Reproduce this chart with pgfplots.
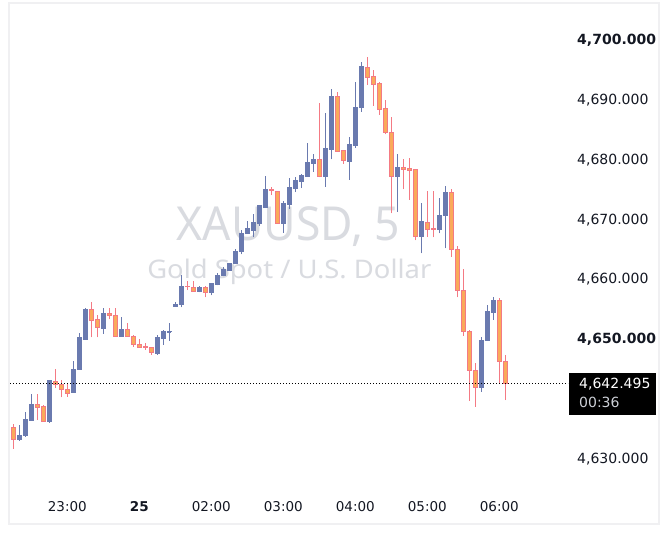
\documentclass[border=0pt]{standalone}
\usepackage{pgfplots}
\pgfplotsset{compat=1.18}
\usepackage{fontspec}
\setmainfont{DejaVu Sans}
\newfontfamily\wm{Noto Sans}
\definecolor{upc}{RGB}{106,122,175}
\definecolor{dnfill}{RGB}{250,170,90}
\definecolor{dnline}{RGB}{244,122,132}
\definecolor{wmc}{RGB}{217,219,224}
\definecolor{framec}{RGB}{240,240,242}
\definecolor{tagsub}{RGB}{205,208,215}
\definecolor{txt}{RGB}{19,23,34}
% #1 index, #2 open, #3 high, #4 low, #5 close
\newcommand\U[5]{%
  \pgfmathsetmacro\xa{#1-0.31}\pgfmathsetmacro\xb{#1+0.31}%
  \addplot[upc, line width=1bp] coordinates {(#1,#4) (#1,#3)};
  \addplot[draw=upc, fill=upc, line width=1bp] coordinates {(\xa,#2) (\xb,#2) (\xb,#5) (\xa,#5)} -- cycle;
}
\newcommand\D[5]{%
  \pgfmathsetmacro\xa{#1-0.31}\pgfmathsetmacro\xb{#1+0.31}%
  \addplot[dnline, line width=1bp] coordinates {(#1,#4) (#1,#3)};
  \addplot[draw=dnline, fill=dnfill, line width=1bp] coordinates {(\xa,#2) (\xb,#2) (\xb,#5) (\xa,#5)} -- cycle;
}
\begin{document}
\begin{tikzpicture}[x=1bp,y=1bp]
\fill[white] (0,0) rectangle (670,541);
\draw[framec, line width=2bp] (9.3,16.7) rectangle (659.3,537.7);
\node[wmc, anchor=base, inner sep=0, font=\wm\fontsize{46.8bp}{50bp}\selectfont, xscale=0.95] at (288.3,300.3) {XAUUSD, 5};
\node[wmc, anchor=base, inner sep=0, font=\wm\fontsize{25.6bp}{28bp}\selectfont, xscale=1.07] at (289.3,262.7) {Gold Spot / U.S. Dollar};
\begin{axis}[at={(10bp,56bp)}, anchor=south west, scale only axis,
  width=558bp, height=475bp,
  xmin=0.45, xmax=93.45, ymin=4625.48, ymax=4705.02,
  axis line style={draw=none}, major tick length=0,
  xtick={10,22,34,46,58,70,82},
  xticklabels={23:00,\textbf{25},02:00,03:00,04:00,05:00,06:00},
  xticklabel style={anchor=base, inner sep=0, yshift=-27bp, text=txt, font=\fontsize{13.5bp}{16bp}\selectfont},
  ytick={4630,4650,4660,4670,4680,4690,4700},
  yticklabels={{4,630.000},{\textbf{4,650.000}},{4,660.000},{4,670.000},{4,680.000},{4,690.000},{\textbf{4,700.000}}},
  yticklabel pos=right,
  yticklabel style={anchor=base west, inner sep=0, xshift=9bp, yshift=-5bp, text=txt, font=\fontsize{14bp}{16bp}\selectfont},
]
\D{1}{4635.07}{4635.69}{4631.56}{4633.06}
\U{2}{4633.13}{4635.53}{4632.90}{4633.73}
\U{3}{4633.73}{4637.70}{4633.60}{4636.53}
\U{4}{4636.25}{4640.72}{4636.20}{4639.04}
\D{5}{4639.04}{4640.72}{4636.36}{4638.49}
\D{6}{4638.59}{4638.88}{4636.03}{4636.08}
\U{7}{4636.08}{4642.95}{4635.91}{4642.95}
\D{8}{4642.89}{4644.90}{4641.77}{4642.34}
\D{9}{4642.34}{4643.11}{4640.17}{4641.39}
\D{10}{4641.39}{4642.51}{4640.27}{4640.84}
\U{11}{4640.94}{4646.24}{4640.94}{4644.90}
\U{12}{4644.79}{4650.98}{4644.79}{4650.10}
\U{13}{4649.81}{4655.17}{4649.81}{4654.95}
\D{14}{4654.95}{4656.12}{4650.21}{4653.06}
\D{15}{4653.11}{4653.95}{4650.21}{4651.89}
\U{16}{4651.72}{4655.17}{4650.77}{4654.28}
\D{17}{4654.28}{4655.12}{4653.23}{4653.90}
\D{18}{4653.90}{4655.12}{4650.31}{4650.31}
\U{19}{4650.31}{4653.61}{4650.31}{4651.60}
\D{20}{4651.60}{4652.61}{4650.31}{4650.31}
\D{21}{4650.38}{4650.65}{4648.64}{4648.97}
\D{22}{4649.04}{4649.88}{4648.54}{4648.54}
\D{23}{4648.64}{4649.21}{4648.09}{4648.54}
\D{24}{4648.42}{4648.64}{4647.30}{4647.70}
\U{25}{4647.53}{4650.60}{4647.25}{4650.10}
\U{26}{4649.98}{4651.44}{4648.97}{4651.10}
\U{27}{4651.10}{4652.61}{4649.64}{4651.15}
\U{28}{4655.40}{4656.07}{4655.40}{4655.62}
\U{29}{4655.67}{4660.65}{4655.24}{4658.80}
\D{30}{4658.80}{4659.59}{4658.13}{4658.64}
\D{31}{4658.58}{4659.59}{4657.80}{4657.92}
\U{32}{4657.92}{4658.80}{4657.75}{4658.47}
\D{33}{4658.47}{4658.80}{4656.91}{4657.68}
\U{34}{4657.68}{4659.19}{4657.25}{4659.19}
\U{35}{4659.09}{4661.03}{4658.92}{4660.60}
\U{36}{4660.60}{4661.94}{4660.43}{4661.60}
\U{37}{4661.43}{4662.71}{4661.32}{4662.49}
\U{38}{4662.60}{4665.05}{4662.49}{4664.61}
\U{39}{4664.55}{4668.18}{4664.11}{4667.63}
\U{40}{4667.56}{4669.74}{4667.56}{4668.40}
\U{41}{4668.07}{4670.86}{4666.96}{4669.41}
\U{42}{4669.24}{4672.25}{4668.85}{4672.25}
\U{43}{4671.92}{4677.28}{4671.92}{4674.88}
\D{44}{4674.93}{4675.33}{4674.00}{4674.83}
\D{45}{4674.66}{4674.66}{4669.30}{4669.30}
\U{46}{4669.30}{4673.09}{4667.73}{4672.54}
\U{47}{4672.42}{4676.84}{4671.75}{4675.22}
\U{48}{4675.10}{4677.06}{4674.50}{4676.39}
\U{49}{4676.27}{4677.51}{4675.17}{4677.28}
\U{50}{4677.17}{4682.75}{4677.17}{4679.45}
\U{51}{4679.35}{4680.86}{4677.95}{4679.90}
\D{52}{4679.90}{4689.45}{4677.00}{4677.17}
\U{53}{4677.17}{4687.83}{4675.43}{4681.75}
\U{54}{4681.70}{4691.84}{4680.02}{4690.50}
\D{55}{4690.46}{4691.29}{4681.30}{4681.30}
\D{56}{4681.53}{4681.60}{4679.29}{4679.86}
\U{57}{4679.62}{4683.76}{4676.56}{4682.42}
\U{58}{4682.30}{4692.92}{4681.97}{4688.61}
\U{59}{4688.67}{4696.37}{4688.00}{4695.48}
\D{60}{4695.43}{4697.15}{4692.47}{4693.76}
\D{61}{4693.81}{4694.98}{4689.00}{4692.58}
\D{62}{4692.63}{4692.90}{4687.44}{4688.40}
\D{63}{4688.56}{4689.95}{4684.21}{4684.54}
\D{64}{4684.54}{4687.16}{4670.98}{4677.17}
\U{65}{4677.11}{4680.91}{4671.25}{4678.68}
\D{66}{4678.68}{4680.07}{4675.00}{4678.35}
\D{67}{4678.40}{4680.24}{4673.26}{4678.18}
\D{68}{4678.23}{4678.23}{4666.46}{4667.01}
\U{69}{4667.06}{4672.75}{4664.28}{4669.52}
\D{70}{4669.47}{4674.77}{4667.06}{4668.30}
\D{71}{4668.40}{4674.77}{4666.96}{4668.30}
\U{72}{4668.18}{4673.59}{4667.63}{4670.64}
\U{73}{4670.64}{4675.55}{4665.12}{4674.50}
\D{74}{4674.50}{4675.00}{4663.72}{4664.95}
\D{75}{4664.95}{4665.50}{4656.91}{4658.08}
\D{76}{4658.08}{4661.60}{4650.48}{4651.22}
\D{77}{4651.22}{4651.44}{4639.60}{4644.69}
\D{78}{4644.69}{4645.91}{4638.59}{4641.84}
\U{79}{4641.84}{4650.26}{4641.10}{4649.71}
\U{80}{4649.64}{4655.62}{4649.64}{4654.45}
\U{81}{4654.33}{4657.01}{4653.11}{4656.41}
\D{82}{4656.41}{4656.80}{4642.39}{4646.19}
\D{83}{4646.19}{4647.30}{4639.71}{4642.50}
\addplot[black, line width=1bp, dash pattern=on 1bp off 2bp] coordinates {(0.45,4642.495) (93.45,4642.495)};
\end{axis}
\fill[black] (569.3,126) rectangle (656,167.7);
\node[white, anchor=base west, inner sep=0, font=\fontsize{14bp}{16bp}\selectfont] at (579,152) {4,642.495};
\node[tagsub, anchor=base west, inner sep=0, font=\fontsize{14bp}{16bp}\selectfont] at (579,133.3) {00:36};
\pgfresetboundingbox
\path (0,0) rectangle (670,541);
\end{tikzpicture}
\end{document}
